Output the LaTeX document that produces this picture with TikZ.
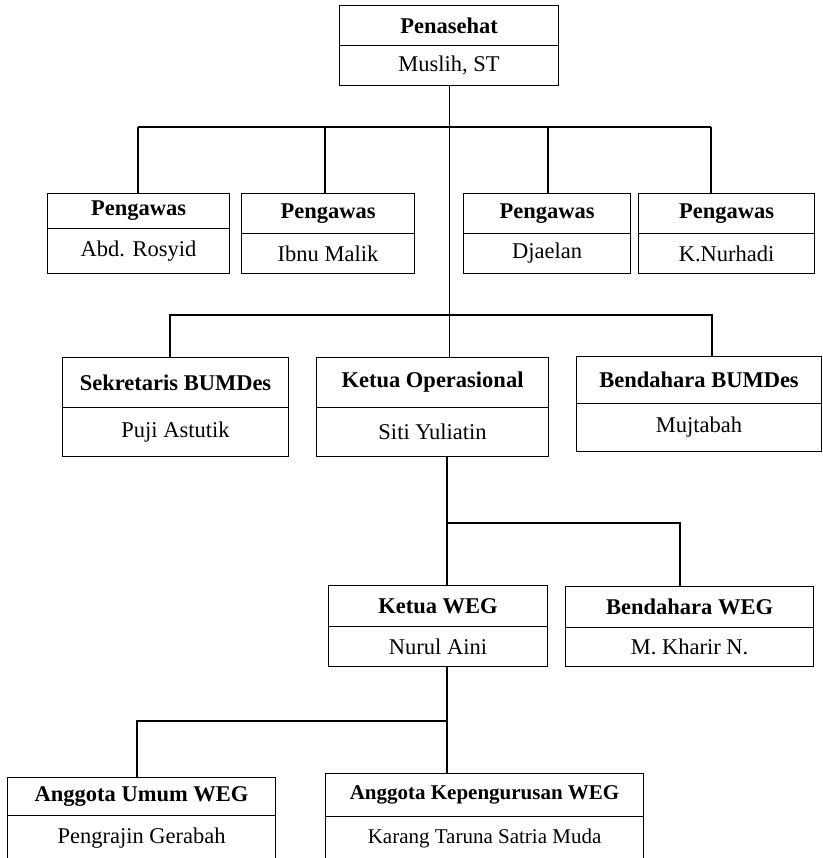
\documentclass[tikz,border=0pt]{standalone}
\usepackage{fontspec}
\setmainfont{Liberation Serif}
\begin{document}
\begin{tikzpicture}[x=1pt,y=-1pt,
  cell/.style={draw, line width=1.1pt, inner sep=0pt, anchor=north west, align=center},
  conn/.style={line width=1.1pt},
  every node/.style={font=\fontsize{22.5}{27}\selectfont}]
\newcommand\orgbox[9][]{%
  \node[cell, minimum width={#4-#3}, minimum height={#6-#5}, font=\fontsize{22.5}{27}\selectfont\bfseries#1] (#2t) at (#3,#5) {#8};
  \node[cell, minimum width={#4-#3}, minimum height={#7-#6}, font=\fontsize{22.5}{27}\selectfont#1] (#2b) at (#3,#6) {#9};
}
\useasboundingbox (0,0) rectangle (822,858);
\clip (0,0) rectangle (822,858);
% boxes
\orgbox{pen}{339}{558}{5}{45}{85}{Penasehat}{Muslih, ST}
\orgbox{pwa}{47}{229}{193}{228}{273}{Pengawas}{Abd. Rosyid}
\orgbox{pwb}{241}{414}{193}{233}{273}{Pengawas}{Ibnu Malik}
\orgbox{pwc}{463}{630}{193}{233}{273}{Pengawas}{Djaelan}
\orgbox{pwd}{638}{814}{193}{233}{273}{Pengawas}{K.Nurhadi}
\orgbox{sek}{62}{288}{357}{407}{456}{Sekretaris BUMDes}{Puji Astutik}
\orgbox{op}{316}{548}{357}{407}{456}{Ketua Operasional}{Siti Yuliatin}
\orgbox{bb}{576}{821}{356}{403}{451}{Bendahara BUMDes}{Mujtabah}
\orgbox{kw}{328}{547}{585}{626}{666}{Ketua WEG}{Nurul Aini}
\orgbox{bw}{565}{813}{586}{627}{666}{Bendahara WEG}{M. Kharir N.}
\orgbox{au}{7}{275}{777}{815}{860}{Anggota Umum WEG}{Pengrajin Gerabah}
\orgbox[\fontsize{21}{25}\selectfont]{ak}{325}{643}{773}{816}{860}{Anggota Kepengurusan WEG}{Karang Taruna Satria Muda}
% connectors
\draw[conn] (penb.south) -- (penb.south |- opt.north);
\coordinate (b1a) at (138,127);
\coordinate (b1b) at (325,127);
\coordinate (b1c) at (548,127);
\coordinate (b1d) at (711,127);
\draw[conn] (b1a) -- (b1d);
\draw[conn] (b1a) -- (b1a |- pwat.north);
\draw[conn] (b1b) -- (b1b |- pwbt.north);
\draw[conn] (b1c) -- (b1c |- pwct.north);
\draw[conn] (b1d) -- (b1d |- pwdt.north);
\coordinate (b2a) at (170,315);
\coordinate (b2d) at (712,315);
\draw[conn] (b2a |- sekt.north) -- (b2a) -- (b2d) -- (b2d |- bbt.north);
\coordinate (t2) at (447,456);
\draw[conn] (t2) -- (t2 |- kwt.north);
\coordinate (b3a) at (447,523);
\coordinate (b3b) at (680,523);
\draw[conn] (b3a) -- (b3b) -- (b3b |- bwt.north);
\coordinate (t3) at (447,666);
\draw[conn] (t3) -- (t3 |- akt.north);
\coordinate (b4a) at (447,721);
\coordinate (b4b) at (137,721);
\draw[conn] (b4a) -- (b4b) -- (b4b |- aut.north);
\end{tikzpicture}
\end{document}
